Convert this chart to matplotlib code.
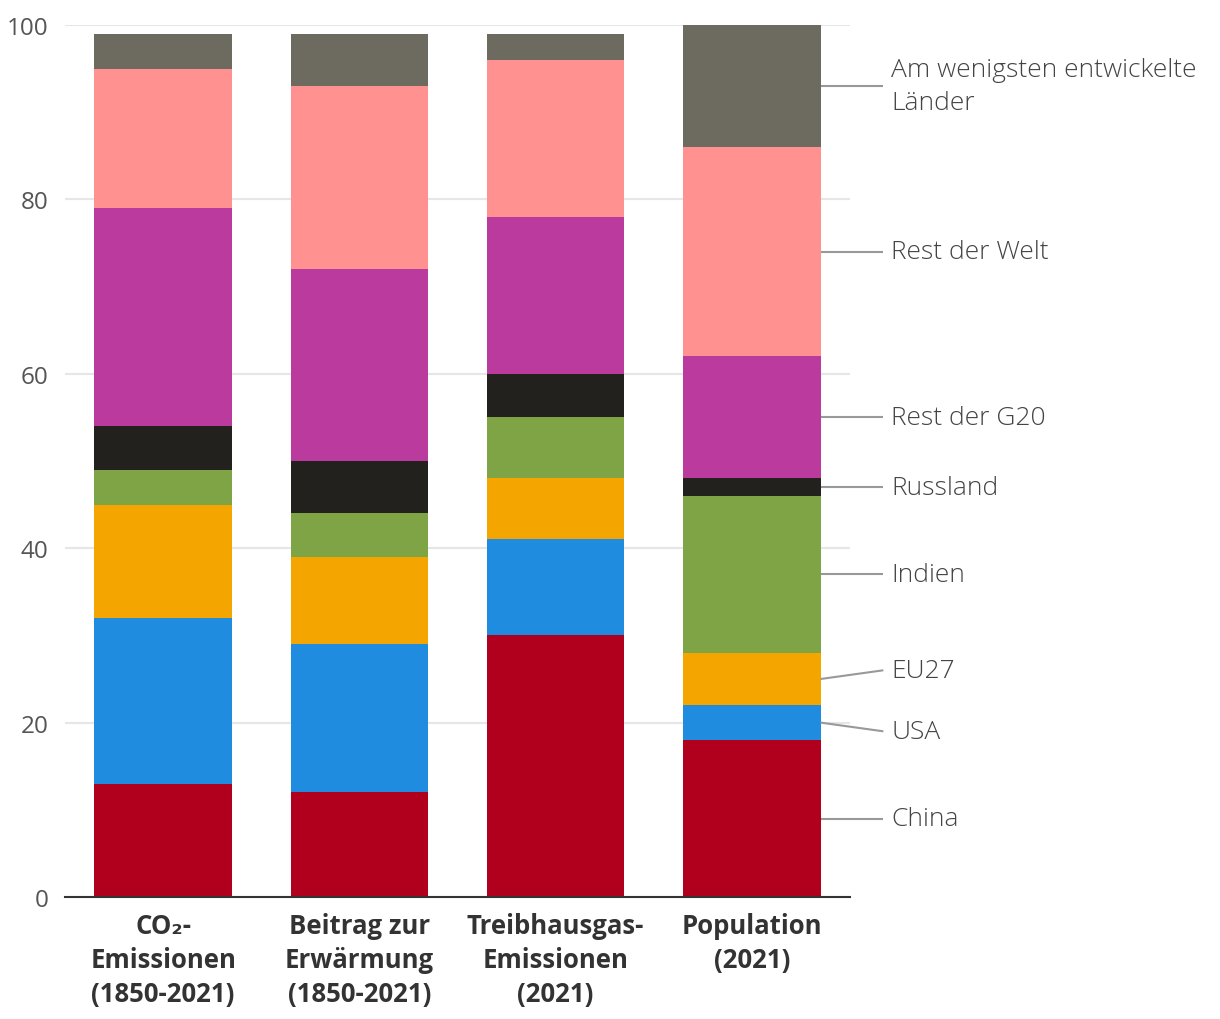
import matplotlib
matplotlib.use("Agg")
import matplotlib.pyplot as plt
import numpy as np

plt.rcParams['font.family'] = ['Open Sans', 'DejaVu Sans']

categories = ["CO₂-\nEmissionen\n(1850-2021)", "Beitrag zur\nErwärmung\n(1850-2021)",
              "Treibhausgas-\nEmissionen\n(2021)", "Population\n(2021)"]
series_names = ["China", "USA", "EU27", "Indien", "Russland", "Rest der G20",
                "Rest der Welt", "Am wenigsten entwickelte\nLänder"]
china = [13, 12, 30, 18]
usa = [19, 17, 11, 4]
eu27 = [13, 10, 7, 6]
indien = [4, 5, 7, 18]
russland = [5, 6, 5, 2]
rest_g20 = [25, 22, 18, 14]
rest_welt = [16, 21, 18, 24]
ldc = [4, 6, 3, 14]
series = [china, usa, eu27, indien, russland, rest_g20, rest_welt, ldc]
colors = ["#b0001e", "#1f8ce0", "#f5a500", "#7ea446", "#22211e", "#bb3a9e", "#ff9290", "#6d6a60"]
# label y positions (data units) for right-side labels
label_y = [9, 19, 26, 37, 47, 55, 74, 93]

fig = plt.figure(figsize=(12.2, 10.2), dpi=100)
ax = fig.add_axes([65/1220, 1 - 898/1020, (850-65)/1220, (898-26)/1020])

x = np.arange(len(categories))
bottom = np.zeros(len(categories))
for vals, col in zip(series, colors):
    ax.bar(x, vals, width=0.7, bottom=bottom, color=col, zorder=3, linewidth=0)
    bottom += np.array(vals)

ax.set_xlim(-0.5, 3.5)
ax.set_ylim(0, 100)
ax.set_yticks([0, 20, 40, 60, 80, 100])
ax.yaxis.grid(True, color="#e6e6e6", linewidth=1.5, zorder=0)
ax.set_axisbelow(True)
for s in ["top", "right", "left"]:
    ax.spines[s].set_visible(False)
ax.spines["bottom"].set_color("#333333")
ax.spines["bottom"].set_linewidth(1.5)
ax.spines["bottom"].set_zorder(5)
ax.tick_params(axis="y", length=0, labelsize=17.5, labelcolor="#555555", pad=12)
ax.tick_params(axis="x", length=0, pad=11)
ax.set_xticks(x)
ax.set_xticklabels(categories, fontsize=18.5, fontweight="bold", color="#333333",
                   linespacing=1.32)

# right-side labels with leader lines
last = len(categories) - 1
cum = 0
for name, vals, ly in zip(series_names, series, label_y):
    mid = cum + vals[last] / 2
    cum += vals[last]
    ax.plot([last + 0.35, last + 0.67], [mid, ly], color="#999999", lw=1.5,
            clip_on=False, zorder=4, solid_capstyle="butt")
    ax.text(last + 0.71, ly, name, fontsize=19, color="#444444", va="center",
            ha="left", linespacing=1.4, fontweight="light")

fig.savefig("out.png", dpi=100, facecolor="white")
